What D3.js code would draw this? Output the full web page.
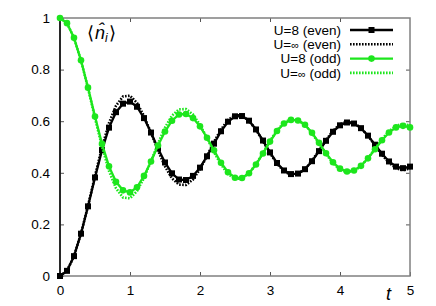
<!DOCTYPE html>
<html>
<head>
<meta charset="utf-8">
<script src="https://cdn.jsdelivr.net/npm/d3@7"></script>
<style>
  body { margin: 0; background: #fff; }
  text { font-family: "Liberation Sans", Arial, sans-serif; }
</style>
</head>
<body>
<div id="chart"></div>
<script>
// time grid
const times = [0, 0.1, 0.2, 0.3, 0.4, 0.5, 0.6, 0.7, 0.8, 0.9,
  1.0, 1.1, 1.2, 1.3, 1.4, 1.5, 1.6, 1.7, 1.8, 1.9,
  2.0, 2.1, 2.2, 2.3, 2.4, 2.5, 2.6, 2.7, 2.8, 2.9,
  3.0, 3.1, 3.2, 3.3, 3.4, 3.5, 3.6, 3.7, 3.8, 3.9,
  4.0, 4.1, 4.2, 4.3, 4.4, 4.5, 4.6, 4.7, 4.8, 4.9, 5.0];

// <n_i>
const evenU8 = [0, 0.020, 0.077, 0.164, 0.270, 0.382, 0.488, 0.575, 0.635, 0.668,
  0.676, 0.656, 0.612, 0.556, 0.494, 0.440, 0.398, 0.374, 0.372, 0.388,
  0.420, 0.464, 0.513, 0.561, 0.598, 0.619, 0.620, 0.602, 0.568, 0.525,
  0.479, 0.438, 0.409, 0.395, 0.397, 0.414, 0.445, 0.484, 0.524, 0.559,
  0.584, 0.595, 0.591, 0.573, 0.544, 0.509, 0.474, 0.444, 0.424, 0.418, 0.424];
const evenInf = [0, 0.020, 0.077, 0.165, 0.272, 0.388, 0.499, 0.593, 0.660, 0.696,
  0.699, 0.671, 0.620, 0.555, 0.487, 0.425, 0.378, 0.354, 0.353, 0.374,
  0.414, 0.465, 0.520, 0.568, 0.605, 0.623, 0.622, 0.602, 0.567, 0.522,
  0.476, 0.435, 0.406, 0.392, 0.395, 0.414, 0.447, 0.487, 0.527, 0.563,
  0.588, 0.598, 0.593, 0.574, 0.543, 0.507, 0.470, 0.439, 0.418, 0.410, 0.417];
const oddU8 = [1, 0.980, 0.923, 0.836, 0.730, 0.618, 0.512, 0.425, 0.365, 0.332,
  0.324, 0.344, 0.388, 0.444, 0.506, 0.560, 0.602, 0.626, 0.628, 0.612,
  0.580, 0.536, 0.487, 0.439, 0.402, 0.381, 0.380, 0.398, 0.432, 0.475,
  0.521, 0.562, 0.591, 0.605, 0.603, 0.586, 0.555, 0.516, 0.476, 0.441,
  0.416, 0.405, 0.409, 0.427, 0.456, 0.491, 0.526, 0.556, 0.576, 0.582, 0.576];
const oddInf = [1, 0.980, 0.923, 0.835, 0.728, 0.612, 0.501, 0.407, 0.340, 0.304,
  0.301, 0.329, 0.380, 0.445, 0.513, 0.575, 0.622, 0.646, 0.647, 0.626,
  0.586, 0.535, 0.480, 0.432, 0.395, 0.377, 0.378, 0.398, 0.433, 0.478,
  0.524, 0.565, 0.594, 0.608, 0.605, 0.586, 0.553, 0.513, 0.473, 0.437,
  0.412, 0.402, 0.407, 0.426, 0.457, 0.493, 0.530, 0.561, 0.582, 0.590, 0.583];

const xTicks = [0, 1, 2, 3, 4, 5];
const yTicks = [0, 0.2, 0.4, 0.6, 0.8, 1];
// [prefix, U value, suffix] so the infinity sign can be drawn smaller like gnuplot does
const seriesNames = [["U=", "8", " (even)"], ["U=", "\u221e", " (even)"],
                     ["U=", "8", " (odd)"], ["U=", "\u221e", " (odd)"]];

const green = "#1de61d";
const series = [
  {name: seriesNames[0], values: evenU8, color: "#000", dash: null, marker: "square"},
  {name: seriesNames[1], values: evenInf, color: "#000", dash: "1.6,1.4", marker: null},
  {name: seriesNames[2], values: oddU8, color: green, dash: null, marker: "circle"},
  {name: seriesNames[3], values: oddInf, color: green, dash: "1.6,1.4", marker: null}
];

const W = 436, H = 306;
const margin = {top: 18, right: 26, bottom: 30, left: 60};
const width = W - margin.left - margin.right,
      height = H - margin.top - margin.bottom;

const svg = d3.select("#chart").append("svg")
    .attr("width", W)
    .attr("height", H);

const x = d3.scaleLinear().domain([0, 5]).range([margin.left, margin.left + width]);
const y = d3.scaleLinear().domain([0, 1]).range([margin.top + height, margin.top]);

// axes with inward ticks, mirrored on top/right
const tickLen = 4;
svg.append("g")
    .attr("transform", `translate(0,${margin.top + height})`)
    .call(d3.axisBottom(x).tickValues(xTicks).tickSize(-tickLen).tickPadding(9).tickFormat(d3.format("d")))
    .call(g => g.select(".domain").remove());
svg.append("g")
    .attr("transform", `translate(0,${margin.top})`)
    .call(d3.axisTop(x).tickValues(xTicks.slice(1, -1)).tickSize(-tickLen).tickFormat(""))
    .call(g => g.select(".domain").remove());
svg.append("g")
    .attr("transform", `translate(${margin.left},0)`)
    .call(d3.axisLeft(y).tickValues(yTicks).tickSize(-tickLen).tickPadding(10).tickFormat(d => d === 0 || d === 1 ? d : d3.format(".1f")(d)))
    .call(g => g.select(".domain").remove());
svg.append("g")
    .attr("transform", `translate(${margin.left + width},0)`)
    .call(d3.axisRight(y).tickValues(yTicks.slice(1, -1)).tickSize(-tickLen).tickFormat(""))
    .call(g => g.select(".domain").remove());

svg.selectAll(".tick line").attr("stroke", "#555");
svg.selectAll(".tick text")
    .attr("font-size", 13.5)
    .attr("font-family", "Liberation Sans, Arial, sans-serif")
    .attr("fill", "#000");

// frame
svg.append("rect")
    .attr("x", margin.left).attr("y", margin.top)
    .attr("width", width).attr("height", height)
    .attr("fill", "none").attr("stroke", "#808080").attr("stroke-width", 1.5);
svg.append("line")
    .attr("x1", margin.left).attr("x2", margin.left)
    .attr("y1", margin.top).attr("y2", margin.top + height)
    .attr("stroke", "#000").attr("stroke-width", 1.5);

// curves
const line = d3.line()
    .x((d, i) => x(times[i]))
    .y(d => y(d));

const plot = svg.append("g");

function drawMarker(g, type, color, cx, cy) {
  if (type === "square") {
    g.append("rect")
      .attr("x", cx - 3).attr("y", cy - 3)
      .attr("width", 6).attr("height", 6)
      .attr("fill", color);
  } else if (type === "circle") {
    g.append("circle")
      .attr("cx", cx).attr("cy", cy).attr("r", 3.3)
      .attr("fill", color);
  }
}

series.forEach(s => {
  plot.append("path")
      .datum(s.values)
      .attr("d", line)
      .attr("fill", "none")
      .attr("stroke", s.color)
      .attr("stroke-width", s.dash ? 2.6 : 2.3)
      .attr("stroke-dasharray", s.dash);
  if (s.marker) {
    const mg = plot.append("g");
    s.values.forEach((v, i) => drawMarker(mg, s.marker, s.color, x(times[i]), y(v)));
  }
});

// legend
const legend = svg.append("g");
series.forEach((s, i) => {
  const ly = 30 + i * 14.3;
  const t = legend.append("text")
      .attr("x", 341).attr("y", ly)
      .attr("dy", "0.35em")
      .attr("text-anchor", "end")
      .attr("font-size", 13.5);
  t.append("tspan").text(s.name[0]);
  t.append("tspan").attr("font-size", s.name[1] === "8" ? 13.5 : 11).text(s.name[1]);
  t.append("tspan").text(s.name[2]);
  legend.append("line")
      .attr("x1", 350).attr("x2", 393)
      .attr("y1", ly).attr("y2", ly)
      .attr("stroke", s.color)
      .attr("stroke-width", s.dash ? 2.6 : 2.3)
      .attr("stroke-dasharray", s.dash);
  if (s.marker) drawMarker(legend, s.marker, s.color, 371.5, ly);
});

// labels
const nLabel = svg.append("text")
    .attr("x", 87).attr("y", 39)
    .attr("font-family", "Liberation Serif, DejaVu Serif, serif")
    .attr("font-size", 18);
nLabel.append("tspan").text("\u27e8");
nLabel.append("tspan").attr("font-style", "italic").attr("dx", 1).text("n\u0302");
nLabel.append("tspan").attr("font-style", "italic").attr("font-size", 12).attr("dy", 3).text("i");
nLabel.append("tspan").attr("dy", -3).attr("dx", 1).text("\u27e9");

svg.append("text")
    .attr("x", 386).attr("y", 300)
    .attr("font-family", "Liberation Serif, DejaVu Serif, serif")
    .attr("font-style", "italic")
    .attr("font-size", 18)
    .text("t");
</script>
</body>
</html>
